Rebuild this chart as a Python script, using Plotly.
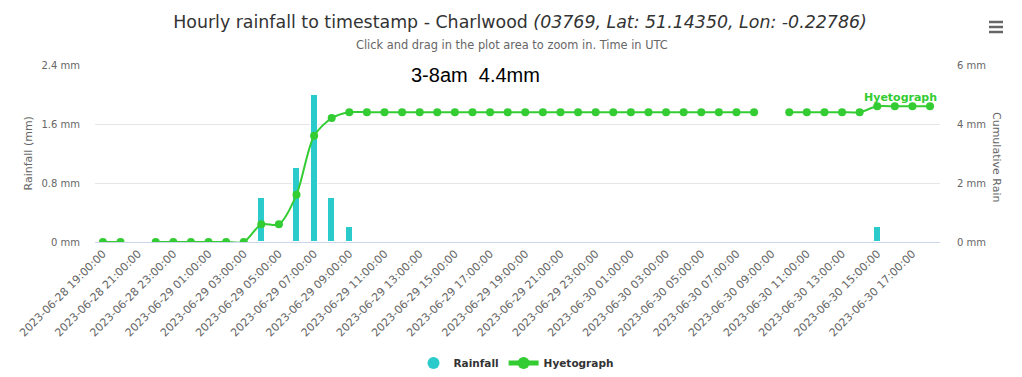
import pandas as pd
import plotly.graph_objects as go

# Hourly timestamps (UTC) 2023-06-28 19:00 -> 2023-06-30 18:00
timestamps = pd.date_range("2023-06-28 19:00", "2023-06-30 18:00", freq="h")

rainfall_mm = [0, 0, None, 0, 0, 0, 0, 0, 0, 0.6, 0, 1.0, 2.0, 0.6, 0.2,
               0, 0, 0, 0, 0, 0, 0, 0, 0, 0, 0, 0, 0, 0, 0, 0, 0, 0, 0, 0, 0, 0, 0,
               None, 0, 0, 0, 0, 0, 0.2, 0, 0, 0]

cumulative_mm = [0, 0, None, 0, 0, 0, 0, 0, 0, 0.6, 0.6, 1.6, 3.6, 4.2,
                 4.4, 4.4, 4.4, 4.4, 4.4, 4.4, 4.4, 4.4, 4.4, 4.4, 4.4, 4.4, 4.4, 4.4,
                 4.4, 4.4, 4.4, 4.4, 4.4, 4.4, 4.4, 4.4, 4.4, 4.4,
                 None, 4.4, 4.4, 4.4, 4.4, 4.4, 4.6, 4.6, 4.6, 4.6]

left_ticks = [0, 0.8, 1.6, 2.4]
right_ticks = [0, 2, 4, 6]

BAR = "#2bcbcb"
GREEN = "#33cc33"
FONT = "DejaVu Sans"

fig = go.Figure()
fig.add_trace(go.Bar(
    x=timestamps, y=rainfall_mm, name="Rainfall", width=1.44e6,
    marker=dict(color=BAR, line=dict(color="#ffffff", width=1)),
    showlegend=False, yaxis="y"))
# legend proxy for circle symbol
fig.add_trace(go.Scatter(
    x=[None], y=[None], mode="markers", name="Rainfall",
    marker=dict(color=BAR, size=12, symbol="circle"), yaxis="y"))
fig.add_trace(go.Scatter(
    x=timestamps, y=cumulative_mm, name="Hyetograph", mode="lines+markers",
    line=dict(color=GREEN, width=2, shape="spline", smoothing=0.8),
    marker=dict(color=GREEN, size=8), connectgaps=False, yaxis="y2"))

# page offset (body margin) of 8px
OFF = 8
FW, FH = 1022 - OFF, 377 - OFF
L, R, T, B = 95 - OFF, 940 - OFF, 65 - OFF, 242 - OFF
W = R - L
H = B - T

def px(x):
    return (x - OFF - L) / W

def py(y):
    return (B - (y - OFF)) / H

annotations = [
    dict(text="Click and drag in the plot area to zoom in. Time in UTC",
         x=px(512), xref="paper", y=py(45), yref="paper", showarrow=False,
         xanchor="center", yanchor="middle",
         font=dict(family=FONT, size=11.4, color="#666666")),
    dict(text="Rainfall (mm)", textangle=-90, x=px(28), xref="paper",
         y=0.5, yref="paper", showarrow=False, xanchor="center", yanchor="middle",
         font=dict(family=FONT, size=11, color="#666666")),
    dict(text="Cumulative Rain", textangle=90, x=px(997), xref="paper",
         y=py(157), yref="paper", showarrow=False, xanchor="center", yanchor="middle",
         font=dict(family=FONT, size=11, color="#666666")),
    dict(text="3-8am\u00a0 4.4mm", x=px(475), xref="paper", y=py(75), yref="paper",
         showarrow=False, xanchor="center", yanchor="middle",
         font=dict(family="Liberation Sans", size=20, color="#000000")),
    dict(text="<b>Hyetograph</b>", x=px(900), xref="paper", y=py(97), yref="paper",
         showarrow=False, xanchor="center", yanchor="middle",
         font=dict(family=FONT, size=11, color=GREEN)),
]

shapes = []
for yy in (22, 27, 32):
    shapes.append(dict(type="line", xref="paper", yref="paper",
                       x0=px(989), x1=px(1003), y0=py(yy), y1=py(yy),
                       line=dict(color="#666666", width=2.5)))

fig.update_layout(
    width=FW, height=FH,
    margin=dict(l=L, r=FW - R, t=T, b=FH - B, autoexpand=False),
    paper_bgcolor="white", plot_bgcolor="white",
    font=dict(family=FONT, color="#666666"),
    title=dict(
        text="Hourly rainfall to timestamp - Charlwood <i>(03769, Lat: 51.14350, Lon: -0.22786)</i>",
        x=(520 - OFF) / FW, xanchor="center", y=1 - (22 - OFF) / FH, yanchor="middle",
        yref="container", xref="container",
        font=dict(family=FONT, size=17.4, color="#333333")),
    xaxis=dict(
        type="date", range=["2023-06-28 18:33", "2023-06-30 18:34"],
        tick0="2023-06-28 19:00", dtick=7200000,
        tickformat="%Y-%m-%d %H:%M:%S", tickangle=-45,
        tickfont=dict(family=FONT, size=11, color="#666666"),
        showgrid=False, showline=True, linecolor="#ccd6eb", linewidth=1,
        zeroline=False, ticks="", automargin=False),
    yaxis=dict(
        range=[0, 2.4], tickvals=left_ticks,
        ticktext=[f"{v:g} mm" for v in left_ticks],
        tickfont=dict(family=FONT, size=10, color="#666666"),
        showgrid=True, gridcolor="#e6e6e6", zeroline=False,
        ticks="outside", ticklen=12, tickcolor="rgba(0,0,0,0)", automargin=False),
    yaxis2=dict(
        range=[0, 6], tickvals=right_ticks,
        ticktext=[f"{v:g} mm" for v in right_ticks], overlaying="y",
        side="right", showgrid=False, zeroline=False,
        tickfont=dict(family=FONT, size=10, color="#666666"),
        ticks="outside", ticklen=14, tickcolor="rgba(0,0,0,0)", automargin=False),
    legend=dict(orientation="h", x=px(516), xanchor="center", y=py(363), yanchor="middle",
                font=dict(family=FONT, size=10.5, color="#333333", weight="bold"),
                itemsizing="constant", itemwidth=30),
    bargap=0,
    annotations=annotations,
    shapes=shapes,
)

fig.write_html("out.html")
